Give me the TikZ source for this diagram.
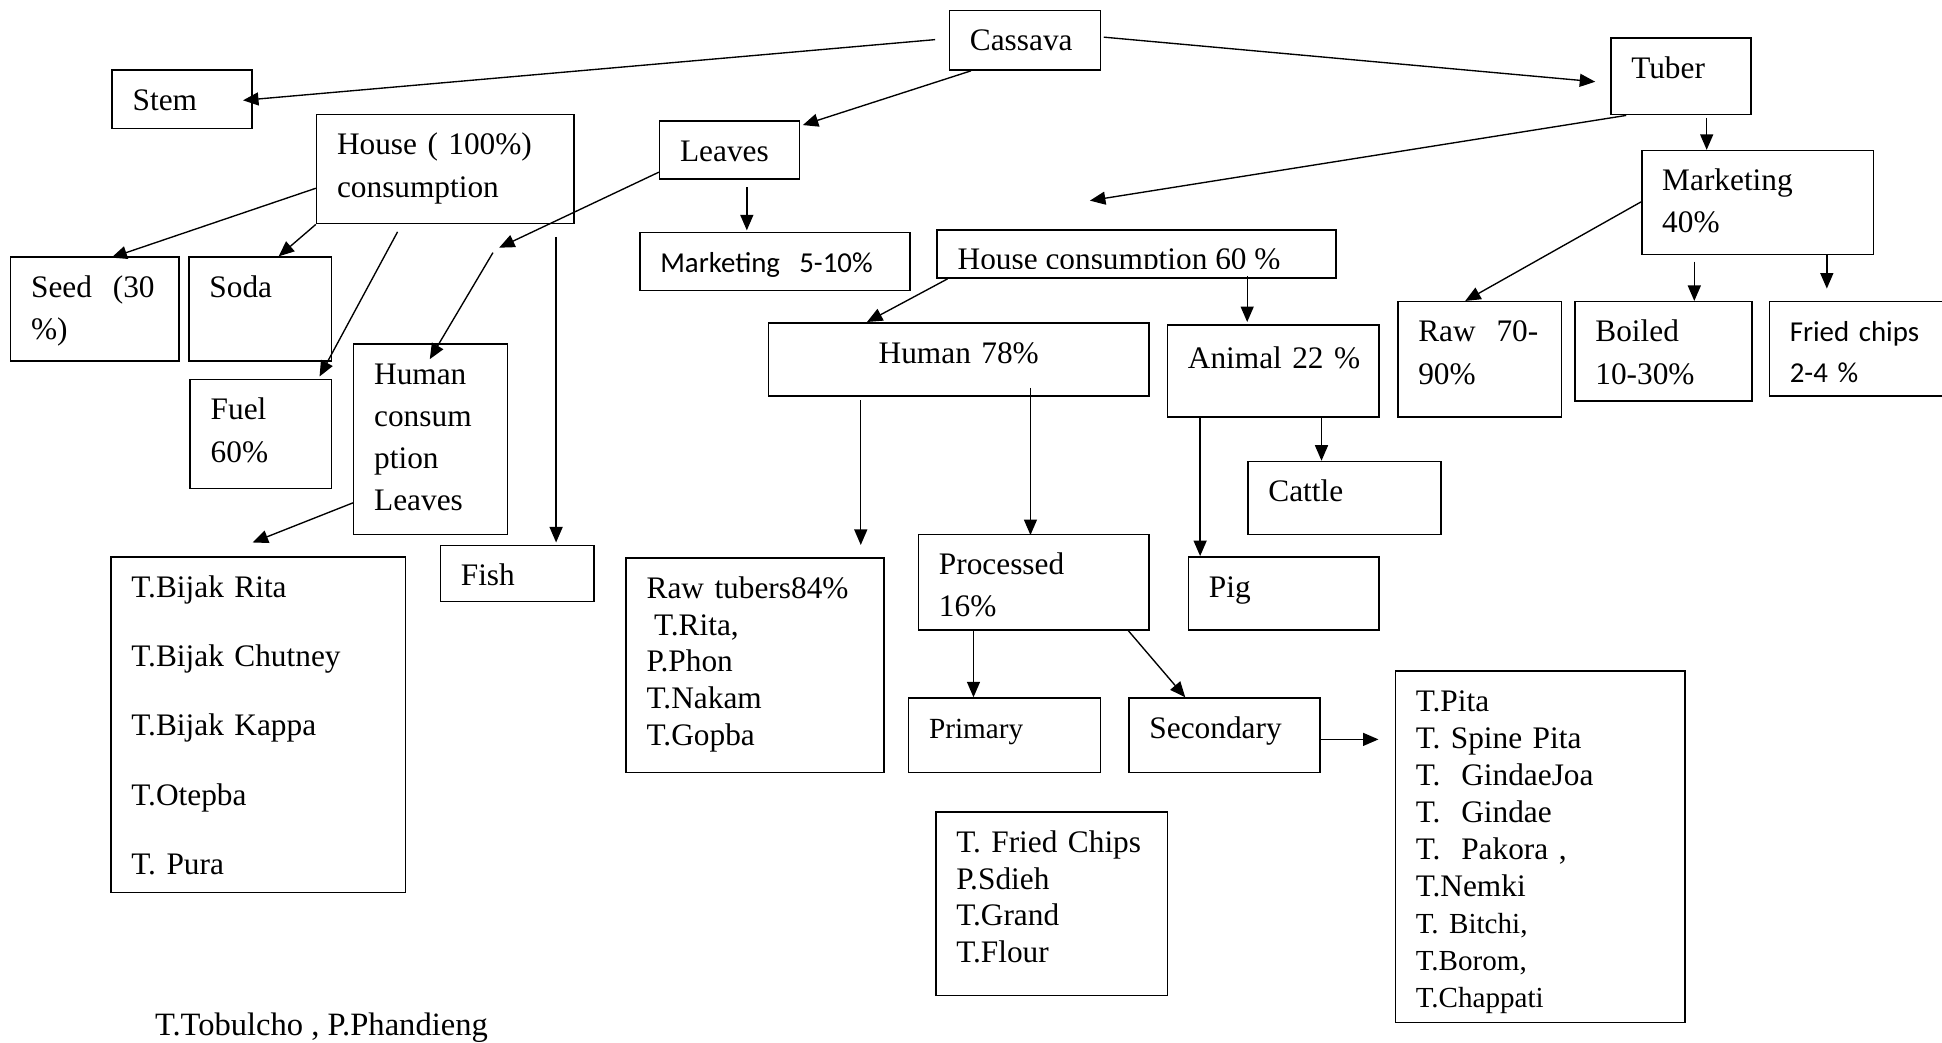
\documentclass[tikz,border=0pt]{standalone}
\usepackage{fontspec}
\setmainfont{Liberation Serif}
\newfontfamily\calibrifont{Carlito}
\usetikzlibrary{arrows.meta}
\newcommand{\tnr}{\fontsize{25.3}{34}\selectfont}
\newcommand{\tnrlist}{\fontsize{25.3}{29.7}\selectfont}
\newcommand{\cbr}{\calibrifont\fontsize{23.3}{33}\selectfont}

\begin{document}
\begin{tikzpicture}[x=1pt,y=-1pt]
    \tikzset{box/.style={draw, line width=1.2pt, anchor=north west, inner xsep=16.5pt, inner ysep=0pt, text height=32.5pt, align=left, font=\tnr}}
    \tikzset{boxsize/.code 2 args={\pgfmathsetlengthmacro\boxw{#1-33}\pgfmathsetlengthmacro\boxd{#2-32.5}\edef\boxset{\noexpand\tikzset{text width=\boxw,text depth=\boxd}}\boxset}}
    \tikzset{arr/.style={line width=1.1pt, -{Triangle[length=12.5pt,width=10.5pt]}}}
    \useasboundingbox (0,0) rectangle (1568,842);

    % top level
    \node[box, boxsize={122}{48}] (cassava) at (766,8) {Cassava};
    \node[box, boxsize={113}{47}] (stem) at (90,56) {Stem};
    \node[box, boxsize={113}{47}] (leaves) at (532,97) {Leaves};
    \node[box, boxsize={113}{62}] (tuber) at (1300,30) {Tuber};

    % stem
    \node[box, boxsize={208}{88}] (house) at (255,92) {House ( 100\%)\\consumption};
    \node[box, boxsize={136}{84}] (seed) at (8,207) {Seed\ \ (30\\\%)};
    \node[box, boxsize={115}{84}] (soda) at (152,207) {Soda};
    \node[box, boxsize={114}{88}] (fuel) at (153,306) {Fuel\\60\%};

    % leaves
    \node[box, boxsize={218}{47}, font=\cbr] (mkt510) at (516,187) {Marketing\ \ 5-10\%};
    \node[box, boxsize={124}{154}] (humleaves) at (285,277) {Human\\consum\\ption\\Leaves};
    \node[box, boxsize={238}{271}, font=\fontsize{25.3}{56}\selectfont] (bijak) at (89,449) {T.Bijak Rita\\T.Bijak Chutney\\T.Bijak Kappa\\T.Otepba\\T. Pura};
    \node[box, boxsize={124}{45}] (fish) at (355,440) {Fish};

    % tuber
    \node[box, boxsize={187}{84}] (mkt40) at (1325,121) {Marketing\\40\%};
    \node[box, boxsize={132}{93}] (raw) at (1128,243) {Raw\ \ 70-\\90\%};
    \node[box, boxsize={143}{80}] (boiled) at (1271,243) {Boiled\\10-30\%};
    \node[box, boxsize={150}{76}, font=\cbr] (fried) at (1428,243) {Fried chips\\2-4 \%};

    \node[box, boxsize={322}{39}] (house60) at (756,185) {};
    \begin{scope}
        \clip (house60.north west) rectangle ([shift={(322,31.5)}]house60.north west);
        \node[anchor=base west, inner sep=0pt, font=\tnr] (house60txt) at ([shift={(17,32.5)}]house60.north west) {House consumption 60 \%};
    \end{scope}
    \node[box, boxsize={307}{59}, align=center] (human) at (620,260) {Human 78\%};
    \node[box, boxsize={171}{74}, text height=35pt, text depth=39pt] (animal) at (942,262) {\mbox{Animal 22 \%}};
    \node[box, boxsize={156}{59}] (cattle) at (1007,372) {Cattle};
    \node[box, boxsize={154}{59}] (pig) at (959,449) {Pig};
    \node[box, boxsize={208}{173}, font=\tnrlist] (rawtub) at (505,450) {Raw tubers84\%\\\hspace*{6pt}T.Rita,\\P.Phon\\T.Nakam\\T.Gopba};
    \node[box, boxsize={186}{77}] (processed) at (741,431) {Processed\\16\%};
    \node[box, boxsize={155}{60}, font=\fontsize{23.6}{34}\selectfont] (primary) at (733,563) {Primary};
    \node[box, boxsize={154}{60}] (secondary) at (911,563) {Secondary};
    \node[box, boxsize={187}{148}, font=\tnrlist] (chips) at (755,655) {T. Fried Chips\\P.Sdieh\\T.Grand\\T.Flour};
    \node[box, boxsize={234}{284}, font=\fontsize{25.3}{29.9}\selectfont] (pita) at (1126,541) {T.Pita\\T. Spine Pita\\T.\ \ GindaeJoa\\T.\ \ Gindae\\T.\ \ Pakora ,\\T.Nemki\\{\fontsize{23.5}{29.9}\selectfont T. Bitchi,}\\{\fontsize{23.5}{29.9}\selectfont T.Borom,}\\{\fontsize{23.5}{29.9}\selectfont T.Chappati}};

    \node[anchor=base west, inner sep=0pt, font=\fontsize{26.3}{34}\selectfont] (note) at (125,836) {T.Tobulcho , P.Phandieng};

    % arrows
    \coordinate (hcons) at (880,162);
    \coordinate (lvmid) at (400,202);
    \draw[arr] ([shift={(-11,24)}]cassava.north west) -- ([shift={(-8,25)}]stem.north east);
    \draw[arr] ([shift={(18,0)}]cassava.south west) -- ([shift={(2,4)}]leaves.north east);
    \draw[arr] ([shift={(2,22)}]cassava.north east) -- ([shift={(-12,36)}]tuber.north west);
    \draw[arr] ([shift={(13,0)}]tuber.south west) -- (hcons);
    \draw[arr] ([shift={(78,2)}]tuber.south west) -- ([shift={(53,0)}]mkt40.north west);
    \draw[arr] ([shift={(71,6)}]leaves.south west) -- ([shift={(87,-1)}]mkt510.north west);
    \draw[arr] ([shift={(0,60)}]house.north west) -- ([shift={(82,1)}]seed.north west);
    \draw[arr] (house.south west) -- ([shift={(73,0)}]soda.north west);
    \draw[arr] ([shift={(66,6)}]house.south west) -- ([shift={(105,-2)}]fuel.north west);
    \draw[arr] ([shift={(0,42)}]leaves.north west) -- ([shift={(3,-2)}]lvmid);
    \draw[arr] ([shift={(-2,2)}]lvmid) -- ([shift={(62,13)}]humleaves.north west);
    \draw[arr] ([shift={(194,10)}]house.south west) -- ([shift={(94,-2)}]fish.north west);
    \draw[arr] ([shift={(0,129)}]humleaves.north west) -- ([shift={(115,-11)}]bijak.north west);
    \draw[arr] ([shift={(0,42)}]mkt40.north west) -- ([shift={(55,0)}]raw.north west);
    \draw[arr] ([shift={(43,5)}]mkt40.south west) -- ([shift={(97,0)}]boiled.north west);
    \draw[arr] ([shift={(150,0)}]mkt40.south west) -- ([shift={(47,-10)}]fried.north west);
    \draw[arr] ([shift={(9,0)}]house60.south west) -- ([shift={(80,0)}]human.north west);
    \draw[arr] ([shift={(251,-2)}]house60.south west) -- ([shift={(65,-2)}]animal.north west);
    \draw[arr] ([shift={(75,3)}]human.south west) -- ([shift={(190,-10)}]rawtub.north west);
    \draw[arr] ([shift={(212,-7)}]human.south west) -- ([shift={(91,1)}]processed.north west);
    \draw[arr] ([shift={(27,0)}]animal.south west) -- ([shift={(10,0)}]pig.north west);
    \draw[arr] ([shift={(125,0)}]animal.south west) -- ([shift={(60,0)}]cattle.north west);
    \draw[arr] ([shift={(45,0)}]processed.south west) -- ([shift={(53,0)}]primary.north west);
    \draw[arr] ([shift={(170,0)}]processed.south west) -- ([shift={(46,0)}]secondary.north west);
    \draw[arr] ([shift={(0,34)}]secondary.north east) -- ([shift={(-13,56)}]pita.north west);
\end{tikzpicture}
\end{document}
